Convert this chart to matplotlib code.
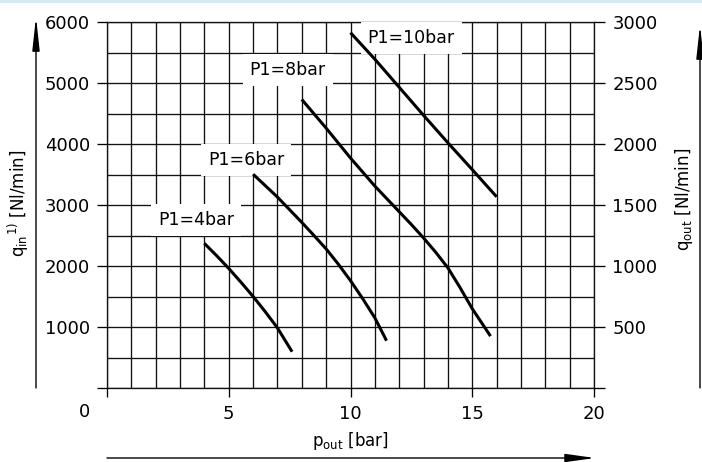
import matplotlib
matplotlib.use('Agg')
import matplotlib.pyplot as plt
from matplotlib.patches import Rectangle

plt.rcParams['font.family'] = ['DejaVu Sans']
plt.rcParams['mathtext.default'] = 'regular'

# flow curves, p_out [bar] vs q_in [Nl/min]
p4_x = [4.0, 4.5, 5.0, 5.5, 6.0, 6.5, 7.0, 7.6]
p4_y = [2370, 2170, 1960, 1735, 1500, 1250, 985, 595]
p6_x = [6.0, 7.0, 8.0, 8.5, 9.0, 9.5, 10.0, 10.5, 11.0, 11.48]
p6_y = [3505, 3130, 2715, 2500, 2280, 2030, 1760, 1465, 1150, 775]
p8_x = [8.0, 9.0, 10.0, 11.0, 11.5, 12.0, 12.5, 13.0, 13.5, 14.0, 14.5, 15.0, 15.75]
p8_y = [4730, 4260, 3770, 3310, 3100, 2890, 2680, 2460, 2225, 1970, 1645, 1300, 850]
p10_x = [10.0, 11.0, 12.0, 13.0, 14.0, 15.0, 16.0]
p10_y = [5825, 5390, 4930, 4470, 4020, 3580, 3135]

curve_labels = ['P1=4bar', 'P1=6bar', 'P1=8bar', 'P1=10bar']
label_pos = [(2.1, 2750), (4.15, 3740), (5.85, 5210), (10.7, 5740)]

x_ticks = [0, 5, 10, 15, 20]
x_ticklabels = ['', '5', '10', '15', '20']
y_ticks = [0, 1000, 2000, 3000, 4000, 5000, 6000]
y_ticklabels = ['', '1000', '2000', '3000', '4000', '5000', '6000']
y2_ticks = [0, 500, 1000, 1500, 2000, 2500, 3000]
y2_ticklabels = ['', '500', '1000', '1500', '2000', '2500', '3000']

W, H = 702, 462
fig = plt.figure(figsize=(W / 100, H / 100), dpi=100)
fig.patches.append(Rectangle((0, 1 - 3 / H), 1, 3 / H, transform=fig.transFigure,
                             facecolor='#d8e9f6', edgecolor='none'))

ax = fig.add_axes([107 / W, 1 - 388 / H, (594 - 107) / W, (388 - 22) / H])
ax.set_xlim(0, 20)
ax.set_ylim(0, 6000)
ax.set_axisbelow(True)

ax.set_xticks(range(0, 21), minor=True)
ax.set_yticks(range(0, 6001, 500), minor=True)
ax.set_xticks(x_ticks)
ax.set_xticklabels(x_ticklabels)
ax.set_yticks(y_ticks)
ax.set_yticklabels(y_ticklabels)
ax.grid(which='both', color='#111111', lw=0.95)
ax.tick_params(which='minor', length=0)
ax.tick_params(axis='x', which='major', length=6.5, width=0.95, pad=6, labelsize=13)
ax.tick_params(axis='y', which='major', length=7.2, width=0.95, pad=5, labelsize=13)
for s in ax.spines.values():
    s.set_linewidth(0.95)
    s.set_color('#111111')

ax2 = ax.twinx()
ax2.set_ylim(0, 3000)
ax2.set_yticks(y2_ticks)
ax2.set_yticklabels(y2_ticklabels)
ax2.tick_params(axis='y', length=7.8, width=0.95, pad=5.5, labelsize=13)
for s in ax2.spines.values():
    s.set_visible(False)

ax.annotate('0', xy=(0, 0), xytext=(-16.5, -17), textcoords='offset points',
            ha='center', va='center', fontsize=13)

for xs, ys in [(p4_x, p4_y), (p6_x, p6_y), (p8_x, p8_y), (p10_x, p10_y)]:
    ax.plot(xs, ys, color='black', lw=2.2, zorder=4, solid_capstyle='butt',
            solid_joinstyle='round')

for lab, (lx, ly) in zip(curve_labels, label_pos):
    ax.text(lx, ly, lab, ha='left', va='center', fontsize=12.5, zorder=3,
            bbox=dict(facecolor='white', edgecolor='none', pad=5))

# axis labels
fig.text(18 / W, 1 - 203 / H, r'$q_{in}{}^{1)}$ [Nl/min]', rotation=90,
         ha='center', va='center', fontsize=12)
fig.text(684 / W, 1 - 199 / H, r'$q_{out}$ [Nl/min]', rotation=90,
         ha='center', va='center', fontsize=12)
fig.text(350 / W, 1 - 441 / H, r'$p_{out}$ [bar]', ha='center', va='center', fontsize=12)

# arrows along the axes
arr = dict(arrowstyle='-|>,head_length=2.0,head_width=0.22', color='black',
           lw=1.0, mutation_scale=10, shrinkA=0, shrinkB=0)
ax.annotate('', xy=(36, H - 17), xytext=(36, H - 388), xycoords='figure pixels',
            textcoords='figure pixels', arrowprops=arr, annotation_clip=False)
ax.annotate('', xy=(700, H - 25), xytext=(700, H - 388), xycoords='figure pixels',
            textcoords='figure pixels', arrowprops=arr, annotation_clip=False)
arr_h = dict(arrowstyle='-|>,head_length=1.8,head_width=0.25', color='black',
             lw=1.0, mutation_scale=10, shrinkA=0, shrinkB=0)
ax.annotate('', xy=(595, H - 458), xytext=(107, H - 458), xycoords='figure pixels',
            textcoords='figure pixels', arrowprops=arr_h, annotation_clip=False)

fig.savefig('out.png', dpi=100)
